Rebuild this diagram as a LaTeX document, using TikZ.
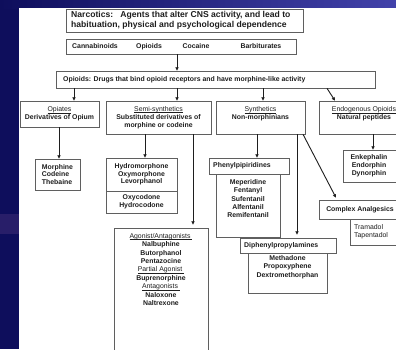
\documentclass[tikz,border=0pt]{standalone}
\usepackage{fontspec}
\setmainfont{Liberation Sans}
\usetikzlibrary{arrows.meta,fit}
\definecolor{navy}{RGB}{14,14,92}
\definecolor{navylight}{RGB}{66,66,170}
\definecolor{navyband}{RGB}{40,30,105}
\definecolor{boxline}{RGB}{95,95,95}
\definecolor{ink}{RGB}{30,30,30}
\newcommand{\hd}[1]{\setbox0\hbox{\mdseries #1}\rlap{\rule[-1.3pt]{\wd0}{0.4pt}}\box0}
\begin{document}
\begin{tikzpicture}[x=1pt,y=-1pt,
  box/.style={draw=boxline, line width=0.6pt, fill=white, inner sep=0pt},
  txt/.style={inner sep=0pt, font=\fontsize{6.9}{7.9}\selectfont\bfseries, align=center, text=ink},
  lst/.style={txt, font=\fontsize{6.9}{8.4}\selectfont\bfseries},
  arr/.style={draw=ink, line width=0.9pt, -{Triangle[length=3.4pt,width=3.2pt]}}]
\useasboundingbox (0,0) rectangle (396,349);
% background
\fill[navy] (0,0) rectangle (396,349);
\shade[left color=navy, right color=navylight] (0,0) rectangle (396,8);
\fill[navyband] (0,214) rectangle (19,234);
\fill[white] (19,8) rectangle (396,349);
\begin{scope}
\clip (0,0) rectangle (396,349);
% boxes
\node[box, fit={(66,9) (303,32)}] (narc) {};
\node[box, fit={(66,39) (296,54)}] (cann) {};
\node[box, fit={(56,71) (375,88)}] (opi) {};
\node[box, fit={(20,101) (99,127)}] (opiates) {};
\node[box, fit={(106,101) (211,134)}] (semi) {};
\node[box, fit={(216,101) (305,134)}] (synth) {};
\node[box, fit={(319,101) (410,134)}] (endo) {};
\node[box, fit={(35,159) (80,190)}] (morph) {};
\node[box, fit={(106,158) (177,191)}] (hydroA) {};
\node[box, fit={(106,191) (177,213)}] (hydroB) {};
\node[box, fit={(216,174) (280,237)}] (phenL) {};
\node[box, fit={(209,158) (289,174)}] (phen) {};
\node[box, fit={(343,150) (400,182)}] (enk) {};
\node[box, fit={(319,200) (401,219)}] (complex) {};
\node[box, fit={(350,219) (401,245)}] (tram) {};
\node[box, fit={(114,228) (208,356)}] (agon) {};
\node[box, fit={(248,253) (327,293)}] (diphL) {};
\node[box, fit={(240,238) (336,253)}] (diph) {};
% texts
\node[txt, anchor=west, align=left, font=\fontsize{8.6}{10}\selectfont\bfseries] (narcT) at (71,20.5)
  {Narcotics:\ \ \ Agents that alter CNS activity, and lead to\\habituation, physical and psychological dependence};
\node[txt] (c1) at (95,46.5) {Cannabinoids};
\node[txt] (c2) at (149,46.5) {Opioids};
\node[txt] (c3) at (196,46.5) {Cocaine};
\node[txt] (c4) at (261,46.5) {Barbiturates};
\node[txt, anchor=west] (opiT) at (63,79.5)
  {Opioids: Drugs that bind opioid receptors and have morphine-like activity};
\node[txt] (opiatesT) at (59.5,114) {\hd{Opiates}\\Derivatives of Opium};
\node[txt] (semiT) at (158.5,117.5) {\hd{Semi-synthetics}\\Substituted derivatives of\\morphine or codeine};
\node[txt] (synthT) at (260.5,114) {\hd{Synthetics}\\Non-morphinians};
\node[txt] (endoT) at (364,114) {\hd{Endogenous Opioids}\\Natural peptides};
\node[txt, align=left, font=\fontsize{6.9}{7.4}\selectfont\bfseries] (morphT) at (morph.center) {Morphine\\Codeine\\Thebaine};
\node[txt, font=\fontsize{6.9}{7.6}\selectfont\bfseries] (hydroAT) at (hydroA.center) {Hydromorphone\\Oxymorphone\\Levorphanol};
\node[txt, font=\fontsize{6.9}{7.6}\selectfont\bfseries] (hydroBT) at (hydroB.center) {Oxycodone\\Hydrocodone};
\node[txt, anchor=west] (phenT) at (213,166) {Phenylpipiridines};
\node[lst, anchor=north] (phenLT) at (248,179) {Meperidine\\Fentanyl\\Sufentanil\\Alfentanil\\Remifentanil};
\node[txt] (enkT) at (369,166) {Enkephalin\\Endorphin\\Dynorphin};
\node[txt] (complexT) at (360,209.5) {Complex Analgesics};
\node[txt, anchor=west, align=left, font=\fontsize{6.9}{8.2}\selectfont] (tramT) at (354,232) {Tramadol\\Tapentadol};
\node[lst, anchor=north] (agonT) at (161,233)
  {\hd{Agonist/Antagonists\ }\\Nalbuphine\\Butorphanol\\Pentazocine\\\hd{Partial Agonist\ }\\Buprenorphine\\\hd{Antagonists\ }\\Naloxone\\Naltrexone};
\node[txt, anchor=west] (diphT) at (244,245.5) {Diphenylpropylamines};
\node[lst, anchor=north] (diphLT) at (287.5,255) {Methadone\\Propoxyphene\\Dextromethorphan};
% connectors
\draw[arr] (cann.south -| 177,0) -- (opi.north -| 177,0);
\draw[arr] (opi.south -| 74,0) -- (opiates.north -| 74,0);
\draw[arr] (opi.south -| 177,0) -- (semi.north -| 177,0);
\draw[arr] (opi.south -| 263,0) -- (synth.north -| 263,0);
\draw[arr] (opi.south -| 327,0) -- (endo.north -| 335,0);
\draw[arr] (opiates.south -| 59,0) -- (morph.north -| 59,0);
\draw[arr] (semi.south -| 145,0) -- (hydroA.north -| 145,0);
\draw[arr] (semi.south -| 193,0) -- ([yshift=3pt]agon.north -| 193,0);
\draw[arr] (synth.south -| 257,0) -- (phen.north -| 257,0);
\draw[arr] (synth.south -| 297,0) -- ([yshift=3pt]diph.north -| 297,0);
\draw[arr] (synth.south -| 303,0) -- ([yshift=2pt]complex.north -| 336,0);
\draw[arr] (endo.south -| 373,0) -- (enk.north -| 373,0);
\end{scope}
\end{tikzpicture}
\end{document}
